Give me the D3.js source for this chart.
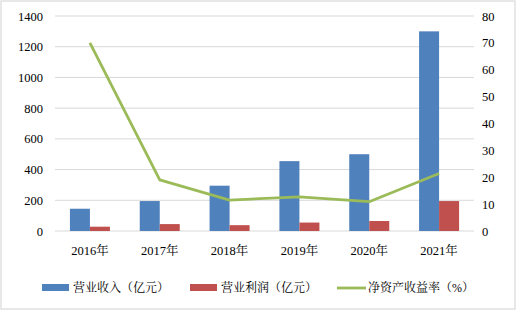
<!DOCTYPE html>
<html><head><meta charset="utf-8">
<script src="https://cdn.jsdelivr.net/npm/d3@7"></script>
<style>body{margin:0;background:#fff}svg{display:block}</style>
</head><body><svg id="c" width="519" height="313"></svg>
<script>
const categories = ["2016年","2017年","2018年","2019年","2020年","2021年"];
const revenue = [145, 195, 295, 455, 500, 1300];
const profit = [28, 45, 38, 55, 65, 195];
const roe = [70, 19, 11.5, 12.7, 10.9, 21.4];
const leftTicks = [0,200,400,600,800,1000,1200,1400];
const rightTicks = [0,10,20,30,40,50,60,70,80];
const legendLabels = ["营业收入（亿元）","营业利润（亿元）","净资产收益率（%）"];

const FONT = "'Liberation Serif', 'Times New Roman', Times, 'Noto Serif CJK SC', 'Noto Sans CJK SC', serif";
const svg = d3.select("#c");
svg.append("rect").attr("x",1).attr("y",1).attr("width",514).attr("height",308)
  .attr("fill","#fff").attr("stroke","#D9D9D9").attr("stroke-width",1.2);

const L=55, R=474, T=16, B=231;
const x = d3.scaleBand().domain(categories).range([L,R]);
const yL = d3.scaleLinear().domain([0,1400]).range([B,T]);
const yR = d3.scaleLinear().domain([0,80]).range([B,T]);

svg.append("g").selectAll("line").data(leftTicks).join("line")
  .attr("x1",L).attr("x2",R).attr("y1",d=>yL(d)).attr("y2",d=>yL(d))
  .attr("stroke","#D9D9D9").attr("stroke-width",1);

function style(ax){
  ax.attr("font-family",FONT).attr("font-size",12.5);
  ax.select(".domain").remove();
  ax.selectAll("text").style("font-family",FONT).style("font-size","12.5px").attr("fill","#000");
}
const axL = svg.append("g").attr("transform",`translate(${L},0)`)
  .call(d3.axisLeft(yL).tickValues(leftTicks).tickSize(0).tickPadding(12).tickFormat(d3.format("d")));
style(axL);
const axR = svg.append("g").attr("transform",`translate(${R},0)`)
  .call(d3.axisRight(yR).tickValues(rightTicks).tickSize(0).tickPadding(8).tickFormat(d3.format("d")));
style(axR);
const axB = svg.append("g").attr("transform",`translate(0,${B})`)
  .call(d3.axisBottom(x).tickSize(0).tickPadding(15));
style(axB);

const bw = 20;
svg.append("g").selectAll("rect").data(revenue).join("rect")
  .attr("x",(d,i)=>x(categories[i])+x.bandwidth()/2-bw).attr("width",bw)
  .attr("y",d=>yL(d)).attr("height",d=>B-yL(d)).attr("fill","#4F81BD");
svg.append("g").selectAll("rect").data(profit).join("rect")
  .attr("x",(d,i)=>x(categories[i])+x.bandwidth()/2).attr("width",bw)
  .attr("y",d=>yL(d)).attr("height",d=>B-yL(d)).attr("fill","#C0504D");

const line = d3.line().x((d,i)=>x(categories[i])+x.bandwidth()/2).y(d=>yR(d));
svg.append("path").datum(roe).attr("d",line).attr("fill","none")
  .attr("stroke","#9BBB59").attr("stroke-width",2.8).attr("stroke-linejoin","round");

const ly = 288;
const lg = svg.append("g").style("font-family",FONT).style("font-size","12px");
lg.append("rect").attr("x",42).attr("y",ly-4).attr("width",27).attr("height",7).attr("fill","#4F81BD");
lg.append("text").attr("x",73).attr("y",ly).attr("dy","0.35em").text(legendLabels[0]);
lg.append("rect").attr("x",190).attr("y",ly-4).attr("width",27).attr("height",7).attr("fill","#C0504D");
lg.append("text").attr("x",221).attr("y",ly).attr("dy","0.35em").text(legendLabels[1]);
lg.append("line").attr("x1",337).attr("x2",366).attr("y1",ly).attr("y2",ly).attr("stroke","#9BBB59").attr("stroke-width",2.8);
lg.append("text").attr("x",368).attr("y",ly).attr("dy","0.35em").text(legendLabels[2]);
</script></body></html>
